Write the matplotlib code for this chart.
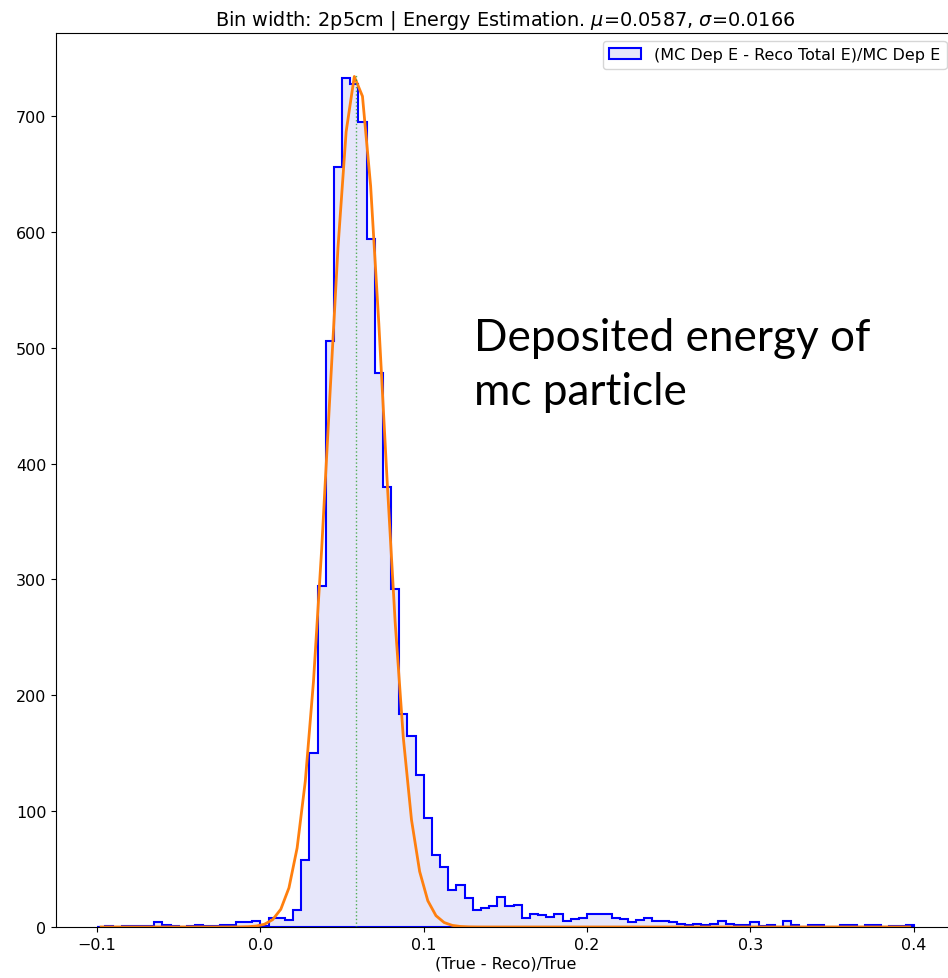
import numpy as np
import matplotlib
matplotlib.use('Agg')
import matplotlib.pyplot as plt

# histogram: 100 bins of 0.005 from -0.1 to 0.4
bin_lo = -0.1
bin_hi = 0.4
n_bins = 100
counts = [
    0, 1, 0, 1, 1, 1, 1, 4, 2, 1,
    0, 1, 2, 1, 1, 2, 2, 4, 4, 5,
    1, 8, 8, 6, 15, 58, 150, 294, 506, 656,
    733, 728, 695, 594, 478, 380, 292, 184, 165, 131,
    94, 62, 52, 32, 36, 25, 15, 16, 18, 26,
    18, 19, 8, 11, 10, 9, 11, 5, 7, 8,
    11, 11, 11, 8, 7, 4, 6, 8, 5, 5,
    4, 3, 2, 3, 2, 3, 5, 3, 2, 2,
    4, 1, 2, 0, 5, 2, 0, 2, 2, 0,
    0, 2, 2, 0, 2, 2, 0, 1, 1, 2,
]

# gaussian fit result
fit_mu = 0.0587
fit_sigma = 0.0166
fit_amp = 736

title = r'Bin width: 2p5cm | Energy Estimation. $\mu$=0.0587, $\sigma$=0.0166'
hist_label = '(MC Dep E - Reco Total E)/MC Dep E'
x_label = '(True - Reco)/True'
note_lines = ['Deposited energy of', 'mc particle']

plt.rcParams['font.size'] = 11.5

edges = np.linspace(bin_lo, bin_hi, n_bins + 1)
centers = 0.5 * (edges[:-1] + edges[1:])
fit_curve = fit_amp * np.exp(-(centers - fit_mu) ** 2 / (2 * fit_sigma ** 2))

fig = plt.figure(figsize=(9.48, 9.79), dpi=100)
W, H = 948, 979
ax = fig.add_axes([56.2 / W, 1 - 928 / H, 898.4 / W, 894 / H])

ax.hist(centers, bins=edges, weights=counts, histtype='stepfilled',
        facecolor='lavender', edgecolor='blue', linewidth=1.5, label=hist_label)
ax.plot(centers, fit_curve, color='tab:orange', linewidth=2)
ax.vlines(fit_mu, 0, fit_amp, colors='tab:green', linestyles=':', linewidth=1, alpha=0.8)

ax.set_xlim(-0.125, 0.425)
ax.set_ylim(0, 771.6)
ax.set_xlabel(x_label, labelpad=3)
ax.set_title(title, fontsize=13.9, pad=6)
ax.legend(loc='upper right', borderaxespad=0.5)

fig.text(474 / W, 1 - 351 / H, note_lines[0], fontsize=31.8, family='Lato', va='baseline')
fig.text(474 / W, 1 - 405 / H, note_lines[1], fontsize=31.8, family='Lato', va='baseline')

fig.savefig('out.png', dpi=100)
